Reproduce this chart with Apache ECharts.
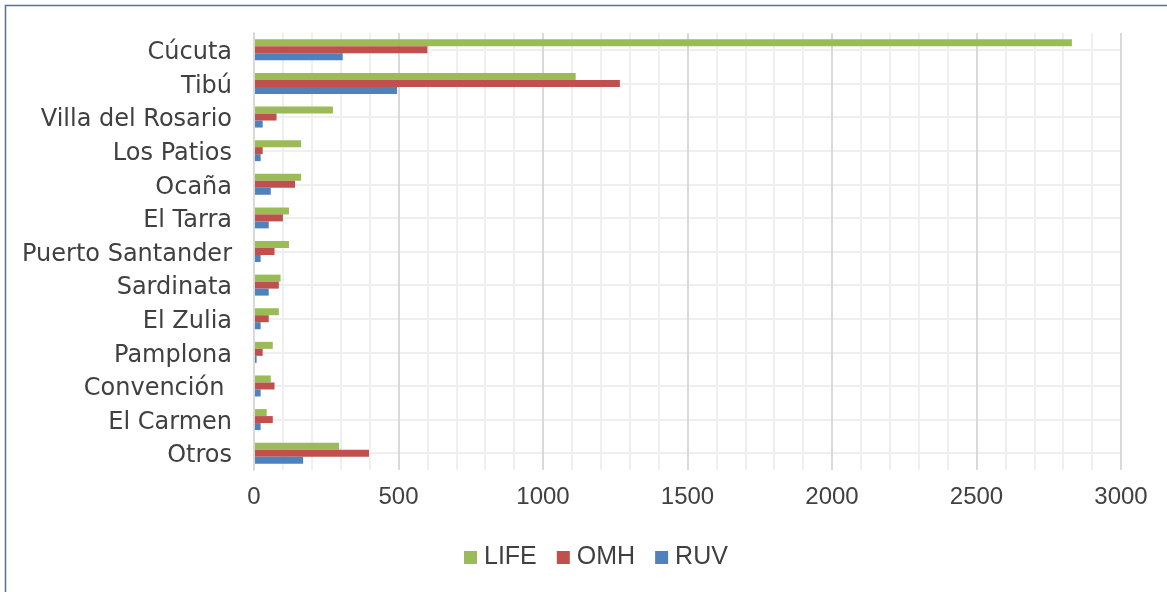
<!DOCTYPE html>
<html>
<head>
<meta charset="utf-8">
<script src="https://cdn.jsdelivr.net/npm/echarts@6/dist/echarts.min.js"></script>
<style>
html,body{margin:0;padding:0;background:#fff;}
#c{width:1167px;height:592px;}
</style>
</head>
<body>
<div id="c"></div>
<script>
var categories = ['Cúcuta','Tibú','Villa del Rosario','Los Patios','Ocaña','El Tarra','Puerto Santander','Sardinata','El Zulia','Pamplona','Convención ','El Carmen','Otros'];
var lifeValues = [2830, 1113, 273, 163, 163, 121, 121, 92, 86, 65, 58, 44, 294];
var omhValues  = [600, 1266, 78, 30, 142, 100, 71, 86, 51, 30, 71, 65, 398];
var ruvValues  = [307, 495, 30, 23, 58, 51, 23, 51, 23, 9, 23, 23, 170];
var xTicks = [0, 500, 1000, 1500, 2000, 2500, 3000];

var chart = echarts.init(document.getElementById('c'));
var font = 'Liberation Sans, Arial, sans-serif';
var catFont = 'DejaVu Sans, sans-serif';
chart.setOption({
  animation: false,
  backgroundColor: '#fff',
  graphic: [{
    type: 'rect', shape: {x: 5.5, y: 5.5, width: 1200, height: 600},
    style: {fill: 'none', stroke: '#5b7191', lineWidth: 1.5}, silent: true, z: 100
  }],
  grid: {left: 254, right: 46, top: 33, bottom: 122, containLabel: false},
  legend: {
    data: ['LIFE','OMH','RUV'],
    left: 459, top: 540,
    itemWidth: 13, itemHeight: 13, itemGap: 20,
    icon: 'rect',
    textStyle: {fontFamily: font, fontSize: 25, color: '#404040', padding: [0,0,0,2]}
  },
  xAxis: {
    type: 'value', min: xTicks[0], max: xTicks[xTicks.length-1], interval: 500,
    axisLine: {show: false}, axisTick: {show: false},
    axisLabel: {fontFamily: font, fontSize: 24, color: '#404040', margin: 15,
      formatter: function (v) { return String(v); }},
    splitLine: {show: true, lineStyle: {color: '#d9d9d9', width: 2}},
    minorTick: {show: false, splitNumber: 5},
    minorSplitLine: {show: true, lineStyle: {color: '#efefef', width: 2}}
  },
  yAxis: [{
    type: 'category', data: categories, inverse: true,
    axisLine: {show: true, lineStyle: {color: '#d9d9d9', width: 2}, onZero: false},
    axisTick: {show: false},
    axisLabel: {
      margin: 22,
      formatter: function (v) { return '{a|' + v + '}'; },
      rich: {a: {fontFamily: catFont, fontSize: 24, color: '#404040', padding: [6,0,0,0]}}
    },
    splitLine: {show: false},
    z: 3
  }, {
    type: 'value', min: 0, max: categories.length * 2, interval: 2,
    position: 'right',
    axisLine: {show: false}, axisTick: {show: false}, axisLabel: {show: false},
    splitLine: {show: false},
    minorTick: {show: false, splitNumber: 2},
    minorSplitLine: {show: true, lineStyle: {color: '#efefef', width: 2}}
  }],
  series: [
    {name: 'LIFE', type: 'bar', data: lifeValues, barWidth: 7, barGap: '0%', itemStyle: {color: '#9bbb59'}},
    {name: 'OMH', type: 'bar', data: omhValues, barWidth: 7, barGap: '0%', itemStyle: {color: '#c0504d'}},
    {name: 'RUV', type: 'bar', data: ruvValues, barWidth: 7, barGap: '0%', itemStyle: {color: '#4f81bd'}}
  ]
});
</script>
</body>
</html>
